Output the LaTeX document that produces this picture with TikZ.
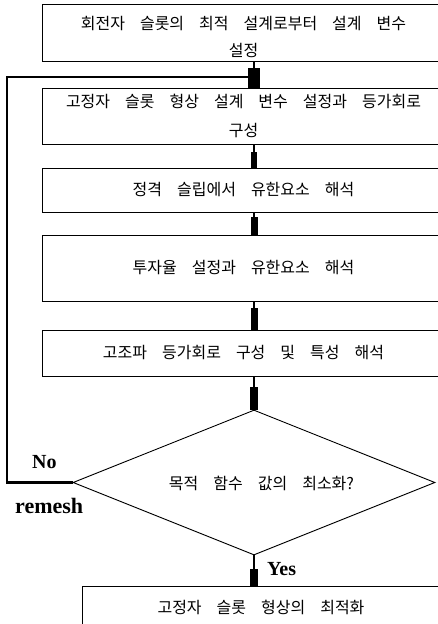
\documentclass[tikz,border=0pt]{standalone}
\usepackage{fontspec}
\setmainfont{Liberation Serif}
\newfontfamily\krfont{Noto Sans CJK KR}
\usetikzlibrary{arrows.meta,shapes.geometric}
\newcommand\ktext{\krfont\fontsize{16}{26.5}\selectfont\spaceskip=15pt\relax}
\begin{document}
\begin{tikzpicture}[x=1pt,y=-1pt,
  box/.style={draw,line width=0.9pt,rectangle,inner sep=0pt,align=center,font=\ktext},
  dec/.style={draw,line width=0.9pt,diamond,inner sep=0pt,minimum width=362pt,minimum height=145pt},
  ktxt/.style={inner sep=0pt,font=\ktext},
  conn/.style 2 args={line width=1.6pt,-{Rectangle[length=#1,width=#2]}},
  fb/.style={line width=2.4pt},
  lab/.style={inner sep=0pt,anchor=base west,font=\fontsize{20}{20}\selectfont\bfseries},
]
\useasboundingbox (0,0) rectangle (438,624);
\clip (0,0) rectangle (438,624);
\coordinate (ax) at (254,0);

\node[box,minimum width=403pt,minimum height=57pt] (b1) at (243.5,32.5)
  {\rule{0pt}{22pt}회전자 슬롯의 최적 설계로부터 설계 변수\\설정};
\node[box,minimum width=403pt,minimum height=56pt] (b2) at (243.5,116)
  {고정자 슬롯 형상 설계 변수 설정과 등가회로\\[3pt]구성};
\node[box,minimum width=403pt,minimum height=44pt] (b3) at (243.5,190)
  {정격 슬립에서 유한요소 해석};
\node[box,minimum width=403pt,minimum height=66pt] (b4) at (243.5,268)
  {투자율 설정과 유한요소 해석};
\node[box,minimum width=403pt,minimum height=46pt] (b5) at (243.5,353)
  {고조파 등가회로 구성 및 특성 해석};
\node[dec] (d) at (254,482.5) {};
\node[ktxt] (dt) at (261.5,483) {목적 함수 값의 최소화?};
\node[box,minimum width=358pt,minimum height=42pt] (b6) at (261,607)
  {고정자 슬롯 형상의 최적화};

\coordinate (c2) at (7,77);
\coordinate (mg) at (252,77);

\draw[conn={20pt}{12pt}] (b1.south -| ax) -- (b2.north -| ax);
\draw[conn={16pt}{6.5pt}] (b2.south -| ax) -- (b3.north -| ax);
\draw[conn={18pt}{7pt}] (b3.south -| ax) -- (b4.north -| ax);
\draw[conn={22pt}{7pt}] (b4.south -| ax) -- (b5.north -| ax);
\draw[conn={23pt}{7.5pt}] (b5.south -| ax) -- (d.north);
\draw[conn={17pt}{8pt}] (d.south) -- (b6.north -| ax);
\draw[fb] (d.west) -| (c2) -- (mg);

\node[lab] (no) at (32,468) {No};
\node[lab,font=\fontsize{22}{22}\selectfont\bfseries] (re) at (15,513) {remesh};
\node[lab] (yes) at (267,575) {Yes};
\end{tikzpicture}
\end{document}
